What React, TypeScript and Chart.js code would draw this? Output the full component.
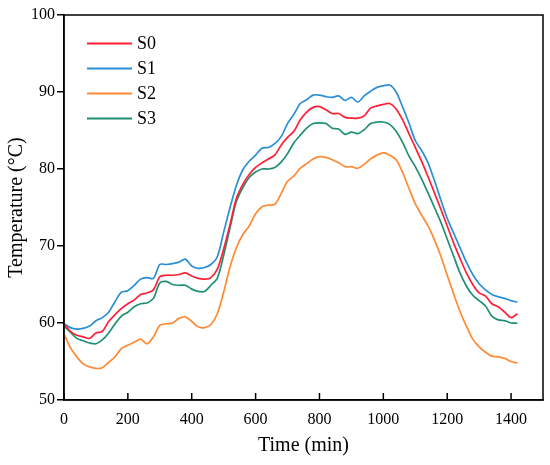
import React, { useEffect, useRef } from "react";
import { Chart, registerables } from "chart.js";

Chart.register(...registerables);

const times = [
  0, 20, 40, 60, 80, 100, 120, 140, 160, 180, 200, 220, 240, 260, 280, 300, 320, 340, 360, 380,
  400, 420, 440, 460, 480, 500, 520, 540, 560, 580, 600, 620, 640, 660, 680, 700, 720, 740, 760, 780,
  800, 820, 840, 860, 880, 900, 920, 940, 960, 980, 1000, 1020, 1040, 1060, 1080, 1100, 1120, 1140, 1160, 1180,
  1200, 1220, 1240, 1260, 1280, 1300, 1320, 1340, 1360, 1380, 1400, 1420,
];

const s0 = [
  59.9, 58.9, 58.4, 58.2, 58.0, 58.7, 58.9, 60.2, 61.1, 61.9, 62.5, 63.0, 63.7, 63.9, 64.3, 66.0, 66.2, 66.2, 66.3, 66.5,
  66.1, 65.8, 65.7, 65.9, 67.0, 69.6, 72.8, 76.2, 78.0, 79.3, 80.2, 80.8, 81.3, 81.8, 83.1, 84.1, 84.9, 86.4, 87.4, 88.0,
  88.1, 87.7, 87.2, 87.2, 86.7, 86.6, 86.6, 86.9, 87.9, 88.2, 88.4, 88.5, 87.8, 86.4, 84.6, 82.8, 81.0, 79.0, 76.9, 74.8,
  72.6, 70.4, 68.4, 66.5, 65.0, 63.9, 63.5, 62.5, 62.1, 61.4, 60.7, 61.2,
];

const s1 = [
  59.9, 59.4, 59.2, 59.3, 59.6, 60.3, 60.7, 61.4, 62.8, 64.0, 64.2, 64.9, 65.7, 65.9, 65.8, 67.6, 67.6, 67.7, 67.9, 68.3,
  67.4, 67.1, 67.2, 67.6, 68.6, 71.8, 75.0, 77.9, 79.9, 81.0, 81.8, 82.7, 82.8, 83.3, 84.2, 85.9, 87.1, 88.5, 89.0, 89.6,
  89.6, 89.4, 89.3, 89.5, 88.9, 89.3, 88.7, 89.5, 90.1, 90.6, 90.8, 90.9, 90.0, 88.1, 86.0, 83.7, 82.4, 80.8, 78.5, 76.0,
  73.6, 71.7, 69.8, 67.9, 66.3, 65.1, 64.3, 63.7, 63.4, 63.2, 62.9, 62.7,
];

const s2 = [
  58.6, 56.8, 55.6, 54.7, 54.3, 54.1, 54.2, 54.9, 55.6, 56.7, 57.1, 57.5, 57.9, 57.3, 58.2, 59.7, 59.9, 60.0, 60.6, 60.8,
  60.2, 59.5, 59.4, 59.8, 61.2, 64.0, 67.3, 69.8, 71.5, 72.6, 74.2, 75.1, 75.3, 75.4, 76.8, 78.4, 79.1, 80.1, 80.7, 81.3,
  81.6, 81.5, 81.2, 80.8, 80.3, 80.3, 80.1, 80.6, 81.3, 81.8, 82.1, 81.8, 81.2, 79.6, 77.5, 75.5, 74.0, 72.6, 70.8, 68.7,
  66.2, 63.8, 61.5, 59.6, 57.9, 56.9, 56.2, 55.7, 55.6, 55.4, 55.0, 54.8,
];

const s3 = [
  59.6, 58.8, 58.0, 57.7, 57.4, 57.3, 57.8, 58.7, 59.9, 60.9, 61.4, 62.1, 62.5, 62.6, 63.2, 65.2, 65.4, 65.0, 64.9, 64.9,
  64.4, 64.1, 64.1, 64.9, 65.8, 68.8, 72.4, 75.8, 77.6, 78.9, 79.6, 80.0, 80.0, 80.2, 80.9, 82.0, 83.4, 84.4, 85.3, 85.9,
  86.0, 85.9, 85.3, 85.2, 84.5, 84.8, 84.6, 85.1, 85.9, 86.1, 86.1, 85.8, 84.9, 83.5, 81.7, 80.3, 78.7, 76.9, 75.0, 73.1,
  70.9, 68.7, 66.5, 64.8, 63.6, 62.9, 62.2, 60.9, 60.4, 60.3, 60.0, 60.0,
];

const seriesNames = ["S0", "S1", "S2", "S3"];
const seriesValues = [s0, s1, s2, s3];
const seriesColors = ["#ff1f35", "#2b8fd4", "#ff8a33", "#1f8f74"];

const FONT = '"Liberation Serif", "DejaVu Serif", serif';

const framePlugin = {
  id: "frame",
  afterDraw(chart: any) {
    const { ctx, chartArea } = chart;
    const xs = chart.scales.x;
    ctx.save();
    ctx.strokeStyle = "#000";
    ctx.lineWidth = 1.5;
    ctx.strokeRect(chartArea.left, chartArea.top, chartArea.right - chartArea.left, chartArea.bottom - chartArea.top);
    // inward x ticks
    ctx.beginPath();
    xs.ticks.forEach((t: any) => {
      const px = xs.getPixelForValue(t.value);
      ctx.moveTo(px, chartArea.bottom);
      ctx.lineTo(px, chartArea.bottom - 7);
    });
    ctx.stroke();
    // legend
    ctx.font = `18px ${FONT}`;
    ctx.textBaseline = "middle";
    ctx.textAlign = "left";
    chart.data.datasets.forEach((ds: any, i: number) => {
      const y = 43.5 + i * 25;
      ctx.strokeStyle = ds.borderColor;
      ctx.lineWidth = 1.8;
      ctx.beginPath();
      ctx.moveTo(87, y);
      ctx.lineTo(132, y);
      ctx.stroke();
      ctx.fillStyle = "#000";
      ctx.fillText(ds.label, 137, y + 1);
    });
    ctx.restore();
  },
};

export default function App() {
  const ref = useRef<HTMLCanvasElement | null>(null);

  useEffect(() => {
    if (!ref.current) return;
    const chart = new Chart(ref.current, {
      type: "line",
      data: {
        datasets: seriesNames.map((name, k) => ({
          label: name,
          data: times.map((t, i) => ({ x: t, y: seriesValues[k][i] })),
          borderColor: seriesColors[k],
          backgroundColor: seriesColors[k],
          borderWidth: 1.7,
          pointRadius: 0,
          tension: 0.3,
          fill: false,
        })),
      },
      options: {
        animation: false,
        responsive: false,
        layout: { padding: { top: 15, right: 7, left: 0, bottom: 0 } },
        plugins: {
          legend: { display: false },
          tooltip: { enabled: false },
        },
        scales: {
          x: {
            type: "linear",
            min: 0,
            max: 1500,
            ticks: {
              stepSize: 200,
              includeBounds: false,
              color: "#000",
              font: { family: FONT, size: 16 },
              padding: 10,
              maxRotation: 0,
              callback: (v: any) => String(v),
            },
            grid: { display: true, drawOnChartArea: false, drawTicks: false },
            border: { display: true, color: "#000", width: 1.5 },
            title: {
              display: true,
              text: "Time (min)",
              color: "#000",
              font: { family: FONT, size: 20 },
              padding: { top: 0, bottom: 7 },
            },
            afterFit: (s: any) => {
              s.height = 65;
            },
          },
          y: {
            type: "linear",
            min: 50,
            max: 100,
            ticks: {
              stepSize: 10,
              color: "#000",
              font: { family: FONT, size: 16 },
              padding: 2,
              callback: (v: any) => String(v),
            },
            grid: { display: true, drawOnChartArea: false, drawTicks: true, tickLength: 7, color: "#000", lineWidth: 1.5 },
            border: { display: true, color: "#000", width: 1.5 },
            title: {
              display: true,
              text: "Temperature (°C)",
              color: "#000",
              font: { family: FONT, size: 20 },
              padding: { top: 5, bottom: 0 },
            },
            afterFit: (s: any) => {
              s.width = 64;
            },
          },
        },
      },
      plugins: [framePlugin],
    });
    return () => chart.destroy();
  }, []);

  return (
    <div style={{ position: "fixed", left: 0, top: 0, width: 550, height: 465, background: "#fff" }}>
      <canvas ref={ref} width={550} height={465} style={{ display: "block" }} />
    </div>
  );
}
